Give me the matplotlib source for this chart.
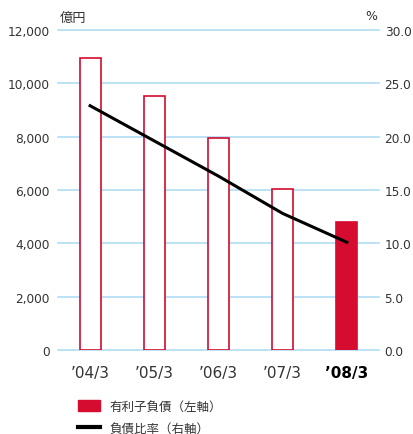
import matplotlib.pyplot as plt
from matplotlib.patches import Patch
from matplotlib.lines import Line2D

plt.rcParams['font.family'] = ['DejaVu Sans', 'Noto Sans CJK JP']
jp = ['Noto Sans CJK JP', 'DejaVu Sans']

# データ
years = ["’04/3", "’05/3", "’06/3", "’07/3", "’08/3"]
debt = [10940, 9510, 7950, 6050, 4800]       # 有利子負債（億円）
ratio = [22.9, 19.6, 16.3, 12.8, 10.1]       # 負債比率（%）
left_ticks = [0, 2000, 4000, 6000, 8000, 10000, 12000]
right_ticks = [0, 5, 10, 15, 20, 25, 30]

red = "#d50b2f"
grid_col = "#a9d9f2"
txt = "#333333"

fig = plt.figure(figsize=(4.14, 4.35), dpi=100)
ax = fig.add_axes([58 / 414, 1 - 351 / 435, 321 / 414, 320 / 435])
x = list(range(len(years)))

faces = ["white"] * 4 + [red]
ax.bar(x, debt, width=0.33, color=faces, edgecolor=red, linewidth=1.2, zorder=3)
ax.set_xlim(-0.5, 4.5)
ax.set_ylim(0, 12000)
ax.set_yticks(left_ticks)
ax.set_yticklabels([f"{v:,}" for v in left_ticks])
for v in left_ticks:
    ax.axhline(v, color=grid_col, lw=1.1, zorder=1, clip_on=False)

ax2 = ax.twinx()
ax2.plot(x, ratio, color="black", lw=2.2, zorder=4)
ax2.set_ylim(0, 30)
ax2.set_yticks(right_ticks)
ax2.set_yticklabels([f"{v:.1f}" for v in right_ticks])

for a in (ax, ax2):
    for s in a.spines.values():
        s.set_visible(False)
    a.tick_params(length=0, labelsize=8.7, colors=txt)
ax.tick_params(axis="y", pad=6)
ax2.tick_params(axis="y", pad=4)

ax.set_xticks(x)
ax.set_xticklabels(years, fontsize=11)
ax.tick_params(axis="x", pad=11)
ax.get_xticklabels()[-1].set_fontweight("bold")
ax.get_xticklabels()[-1].set_color("black")

fig.text(60 / 414, 1 - 18 / 435, "億円", fontsize=9.5, color=txt, va="center", family=jp)
fig.text(371 / 414, 1 - 17 / 435, "%", fontsize=9, color=txt, va="center", ha="center")

handles = [Patch(facecolor=red, edgecolor=red),
           Line2D([0], [0], color="black", lw=3)]
leg = fig.legend(handles, ["有利子負債（左軸）", "負債比率（右軸）"],
                 loc="upper left", bbox_to_anchor=(78 / 414, 1 - 401 / 435),
                 frameon=False, prop={'family': jp, 'size': 9}, labelcolor=txt,
                 handlelength=1.75, handleheight=0.95, handletextpad=0.75,
                 labelspacing=0.7, borderpad=0, borderaxespad=0)

fig.savefig("out.png", dpi=100)
